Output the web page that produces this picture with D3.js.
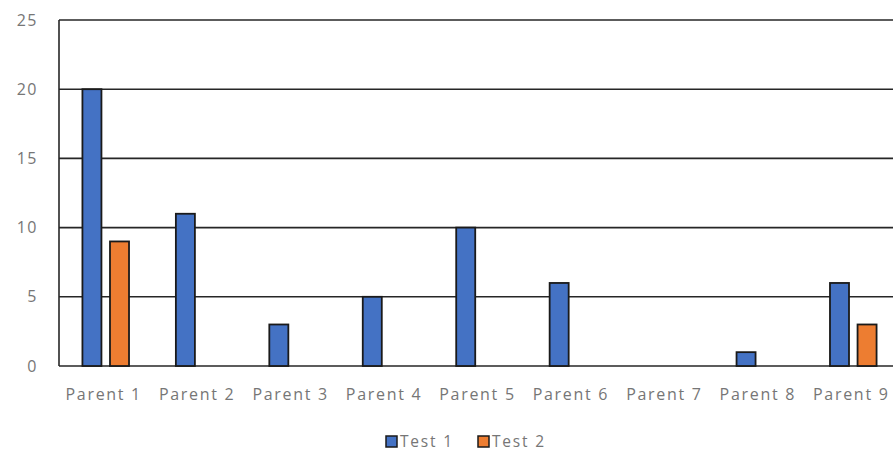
<!DOCTYPE html>
<html>
<head>
<meta charset="utf-8">
<script src="https://cdn.jsdelivr.net/npm/d3@7"></script>
<style>
  html, body { margin: 0; padding: 0; background: #fff; overflow: hidden; }
  text { font-family: "Open Sans", "DejaVu Sans", sans-serif; fill: #767676; }
</style>
</head>
<body>
<div id="chart"></div>
<script>
// ── Data ───────────────────────────────────────────────────────────────
const categories = ["Parent 1","Parent 2","Parent 3","Parent 4","Parent 5","Parent 6","Parent 7","Parent 8","Parent 9"];
const test1 = [20, 11, 3, 5, 10, 6, 0, 1, 6];
const test2 = [9, 0, 0, 0, 0, 0, 0, 0, 3];
const seriesNames = ["Test 1", "Test 2"];
const yTicks = [0, 5, 10, 15, 20, 25];

const COLORS = { "Test 1": "#4472C4", "Test 2": "#ED7D31" };

// ── Setup ──────────────────────────────────────────────────────────────
const W = 893, H = 452;
const m = { left: 59, top: 20, bottom: 86 };
const plotW = 841, plotH = H - m.top - m.bottom;

const svg = d3.select("#chart").append("svg").attr("width", W).attr("height", H);

const x = d3.scaleBand().domain(categories).range([m.left, m.left + plotW]).paddingInner(0).paddingOuter(0);
const xs = d3.scaleBand().domain(seriesNames).range([0, x.bandwidth()]).paddingInner(0.31).paddingOuter(0.85);
const y = d3.scaleLinear().domain([0, 25]).range([m.top + plotH, m.top]);

// ── Grid ───────────────────────────────────────────────────────────────
svg.append("g").selectAll("line").data(yTicks).join("line")
  .attr("x1", m.left).attr("x2", W)
  .attr("y1", d => y(d)).attr("y2", d => y(d))
  .attr("stroke", "#262626").attr("stroke-width", 1.6);

svg.append("line")
  .attr("x1", m.left).attr("x2", m.left)
  .attr("y1", y(25)).attr("y2", y(0))
  .attr("stroke", "#262626").attr("stroke-width", 1.6);

// y tick labels
svg.append("g").selectAll("text").data(yTicks).join("text")
  .attr("x", 38).attr("y", d => y(d)).attr("dy", "0.35em")
  .attr("text-anchor", "end").attr("font-size", 16).attr("letter-spacing", 1.5)
  .text(d => d);

// ── Bars ───────────────────────────────────────────────────────────────
const rows = [];
categories.forEach((c, i) => {
  rows.push({ cat: c, s: "Test 1", v: test1[i] });
  rows.push({ cat: c, s: "Test 2", v: test2[i] });
});

svg.append("g").selectAll("rect").data(rows.filter(r => r.v > 0)).join("rect")
  .attr("x", d => x(d.cat) + xs(d.s))
  .attr("y", d => y(d.v))
  .attr("width", xs.bandwidth())
  .attr("height", d => y(0) - y(d.v))
  .attr("fill", d => COLORS[d.s])
  .attr("stroke", "#1a1a1a").attr("stroke-width", 1.8);

// x labels
svg.append("g").selectAll("text").data(categories).join("text")
  .attr("x", d => x(d) + x.bandwidth() / 2 - 2)
  .attr("y", 400)
  .attr("text-anchor", "middle").attr("font-size", 16)
  .attr("letter-spacing", 1.7)
  .text(d => d);

// ── Legend ─────────────────────────────────────────────────────────────
const legendX = [386, 478];
const lg = svg.append("g").selectAll("g").data(seriesNames).join("g")
  .attr("transform", (d, i) => `translate(${legendX[i]},436)`);
lg.append("rect").attr("width", 11).attr("height", 11)
  .attr("fill", d => COLORS[d]).attr("stroke", "#1a1a1a").attr("stroke-width", 1.5);
lg.append("text").attr("x", 14).attr("y", 11)
  .attr("font-size", 15.5).attr("letter-spacing", 1.8)
  .text(d => d);
</script>
</body>
</html>
